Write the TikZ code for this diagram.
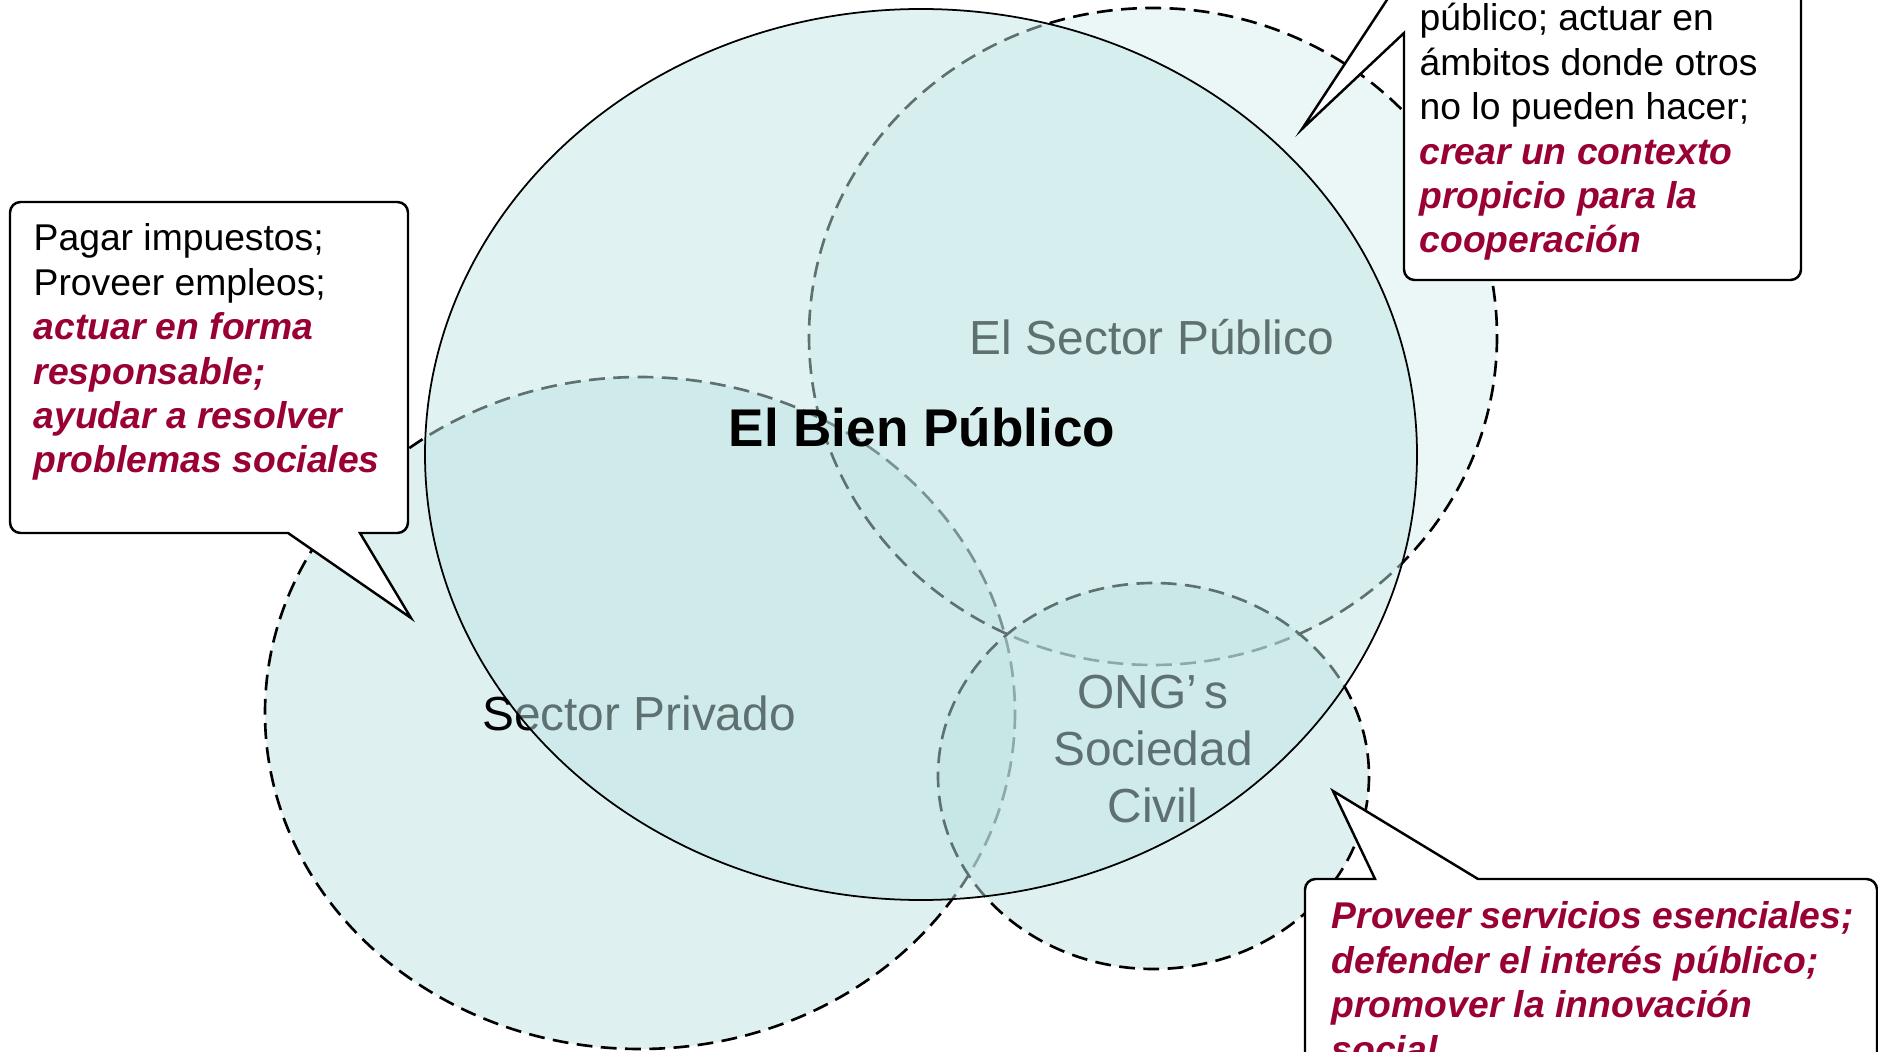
\documentclass[tikz,border=0pt]{standalone}
\usepackage{fontspec}
\setmainfont{Liberation Sans}
\definecolor{sectorfill}{RGB}{190,225,225}
\definecolor{bienfill}{RGB}{192,229,229}
\definecolor{rojo}{RGB}{153,0,51}
\newcommand{\resalte}[1]{{\color{rojo}\bfseries\itshape #1}}
\tikzset{
  sector/.style={
    draw=black, line width=0.75pt,
    dash pattern=on 4.5pt off 2.4pt,
    fill=sectorfill
  },
  bien/.style={draw=black, line width=0.5pt, fill=bienfill, fill opacity=0.49},
  sectorname/.style={inner sep=0pt, font=\fontsize{13.6}{16.3}\selectfont},
  globo/.style={draw=black, line width=0.7pt, fill=white},
  globotext/.style={
    inner sep=0pt, align=left, anchor=base west,
    font=\fontsize{10.6}{12.63}\selectfont
  }
}

\begin{document}
\begin{tikzpicture}[x=0.01cm,y=-0.01cm]
%canvas 1878 x 1052, y runs downward
%multi-line nodes: base anchor sits on the last line
\newcommand{\rc}{3pt}
\useasboundingbox (0,0) rectangle (1878,1052);
\clip (0,0) rectangle (1878,1052);
\draw [sector, fill opacity=0.5] (640,713) ellipse (375 and 336);
\draw [sector, fill opacity=0.3] (1153,336.5) ellipse (344 and 328.5);
\draw [sector, fill opacity=0.5] (1153.5,776) ellipse (215.5 and 193);
\node [sectorname, anchor=base] (privado) at (639,731) {Sector Privado};
\node [sectorname, anchor=base] (publico) at (1152,355) {El Sector Público};
\node [sectorname, anchor=base, align=center] (ong) at (1153,823) {ONG’\,s\\Sociedad\\Civil};
\draw [bien] (921,454.5) ellipse (496 and 445.5);
\node [inner sep=0pt, anchor=base, font=\fontsize{15.1}{18}\selectfont\bfseries] (bien) at (922,447) {El Bien Público};
%callouts
\draw [globo] (360,533) [rounded corners=\rc] -- (408,533) -- (408,202) -- (10,202) -- (10,533) [sharp corners] -- (288,533) -- (411,618) -- cycle;
\node [globotext] (empresa) at (33,473) {Pagar impuestos;\\Proveer empleos;\\\resalte{actuar en forma}\\\resalte{responsable;}\\\resalte{ayudar a resolver}\\\resalte{problemas sociales}};
\draw [globo] (1404,-26) -- (1302,129) -- (1404,33) [rounded corners=\rc] -- (1404,280) -- (1801,280) -- (1801,-120) -- (1404,-120) -- cycle;
\node [globotext] (gobierno) at (1419,253) {público; actuar en\\ámbitos donde otros\\no lo pueden hacer;\\\resalte{crear un contexto}\\\resalte{propicio para la}\\\resalte{cooperación}};
\draw [globo] (1305,1000) [rounded corners=\rc] -- (1305,879) [sharp corners] -- (1375,879) -- (1333,791) -- (1478,879) [rounded corners=\rc] -- (1877,879) -- (1877,1200) -- (1305,1200) -- cycle;
\node [globotext] (sociedad) at (1331,1062) {\resalte{Proveer servicios esenciales;}\\\resalte{defender el interés público;}\\\resalte{promover la innovación}\\\resalte{social}};
\end{tikzpicture}
\end{document}
